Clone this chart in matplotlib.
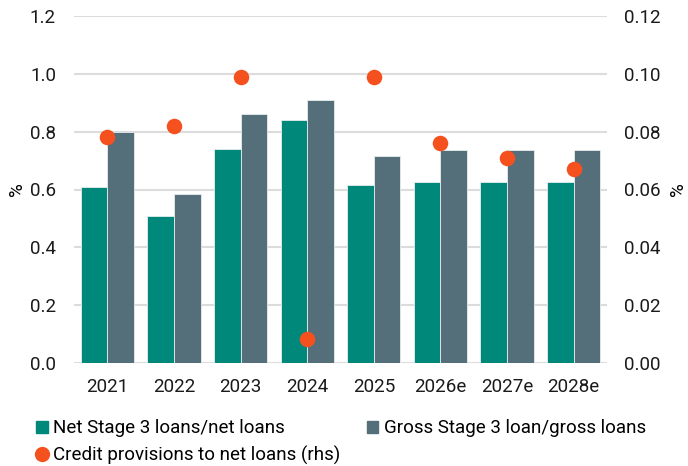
import numpy as np
import matplotlib.pyplot as plt
from matplotlib.patches import Patch
from matplotlib.lines import Line2D

plt.rcParams['font.family'] = ['Roboto', 'DejaVu Sans']

years = ['2021', '2022', '2023', '2024', '2025', '2026e', '2027e', '2028e']
net_stage3 = [0.61, 0.51, 0.74, 0.84, 0.615, 0.625, 0.625, 0.625]
gross_stage3 = [0.80, 0.585, 0.86, 0.91, 0.715, 0.735, 0.735, 0.735]
provisions = [0.078, 0.082, 0.099, 0.0083, 0.099, 0.076, 0.071, 0.067]

green = '#00897B'
slate = '#546E7A'
orange = '#F4511E'
grid = '#DCDCDC'
fs = 13.5

fig = plt.figure(figsize=(6.88, 4.66), dpi=100)
ax = fig.add_axes([74/688, 1-363/466, (607-74)/688, (363-16)/466])
ax2 = ax.twinx()

x = np.arange(len(years))
w = 0.4
ax.bar(x - w/2, net_stage3, w, color=green, edgecolor='#E6EEEE', linewidth=0.6, zorder=2)
ax.bar(x + w/2, gross_stage3, w, color=slate, edgecolor='#E6EEEE', linewidth=0.6, zorder=2)
ax2.scatter(x, provisions, s=125, color=orange, zorder=3, linewidths=0)

ax.set_xlim(-0.5, len(years) - 0.5)
ax.set_ylim(0, 1.2)
ax.set_yticks(np.arange(0, 1.21, 0.2))
ax.set_yticklabels([f'{v:.1f}' for v in np.arange(0, 1.21, 0.2)])
ax2.set_ylim(0, 0.12)
ax2.set_yticks(np.arange(0, 0.121, 0.02))
ax2.set_yticklabels([f'{v:.2f}' for v in np.arange(0, 0.121, 0.02)])
ax.set_xticks(x)
ax.set_xticklabels(years)

ax.yaxis.grid(True, color=grid, linewidth=1.5, zorder=0)
ax.set_axisbelow(True)
for a in (ax, ax2):
    for s in a.spines.values():
        s.set_visible(False)
    a.tick_params(length=0, labelsize=fs, colors='#1a1a1a')
ax.tick_params(axis='y', pad=13)
ax2.tick_params(axis='y', pad=12)
ax.tick_params(axis='x', pad=11)

ax.set_ylabel('%', fontsize=fs, labelpad=3)
ax2.set_ylabel('%', fontsize=fs, labelpad=6)

handles = [
    Patch(color=green, label='Net Stage 3 loans/net loans'),
    Line2D([], [], marker='o', linestyle='none', markersize=11, markeredgewidth=0,
           color=orange, label='Credit provisions to net loans (rhs)'),
    Patch(color=slate, label='Gross Stage 3 loan/gross loans'),
]
fig.legend(handles=handles, ncol=2, loc='upper left', bbox_to_anchor=(27/688, 1-410/466),
           frameon=False, fontsize=fs, handlelength=0.6, handleheight=0.6,
           handletextpad=0.3, columnspacing=1.4, borderpad=0, labelspacing=0.45)

fig.savefig('out.png', dpi=100)
